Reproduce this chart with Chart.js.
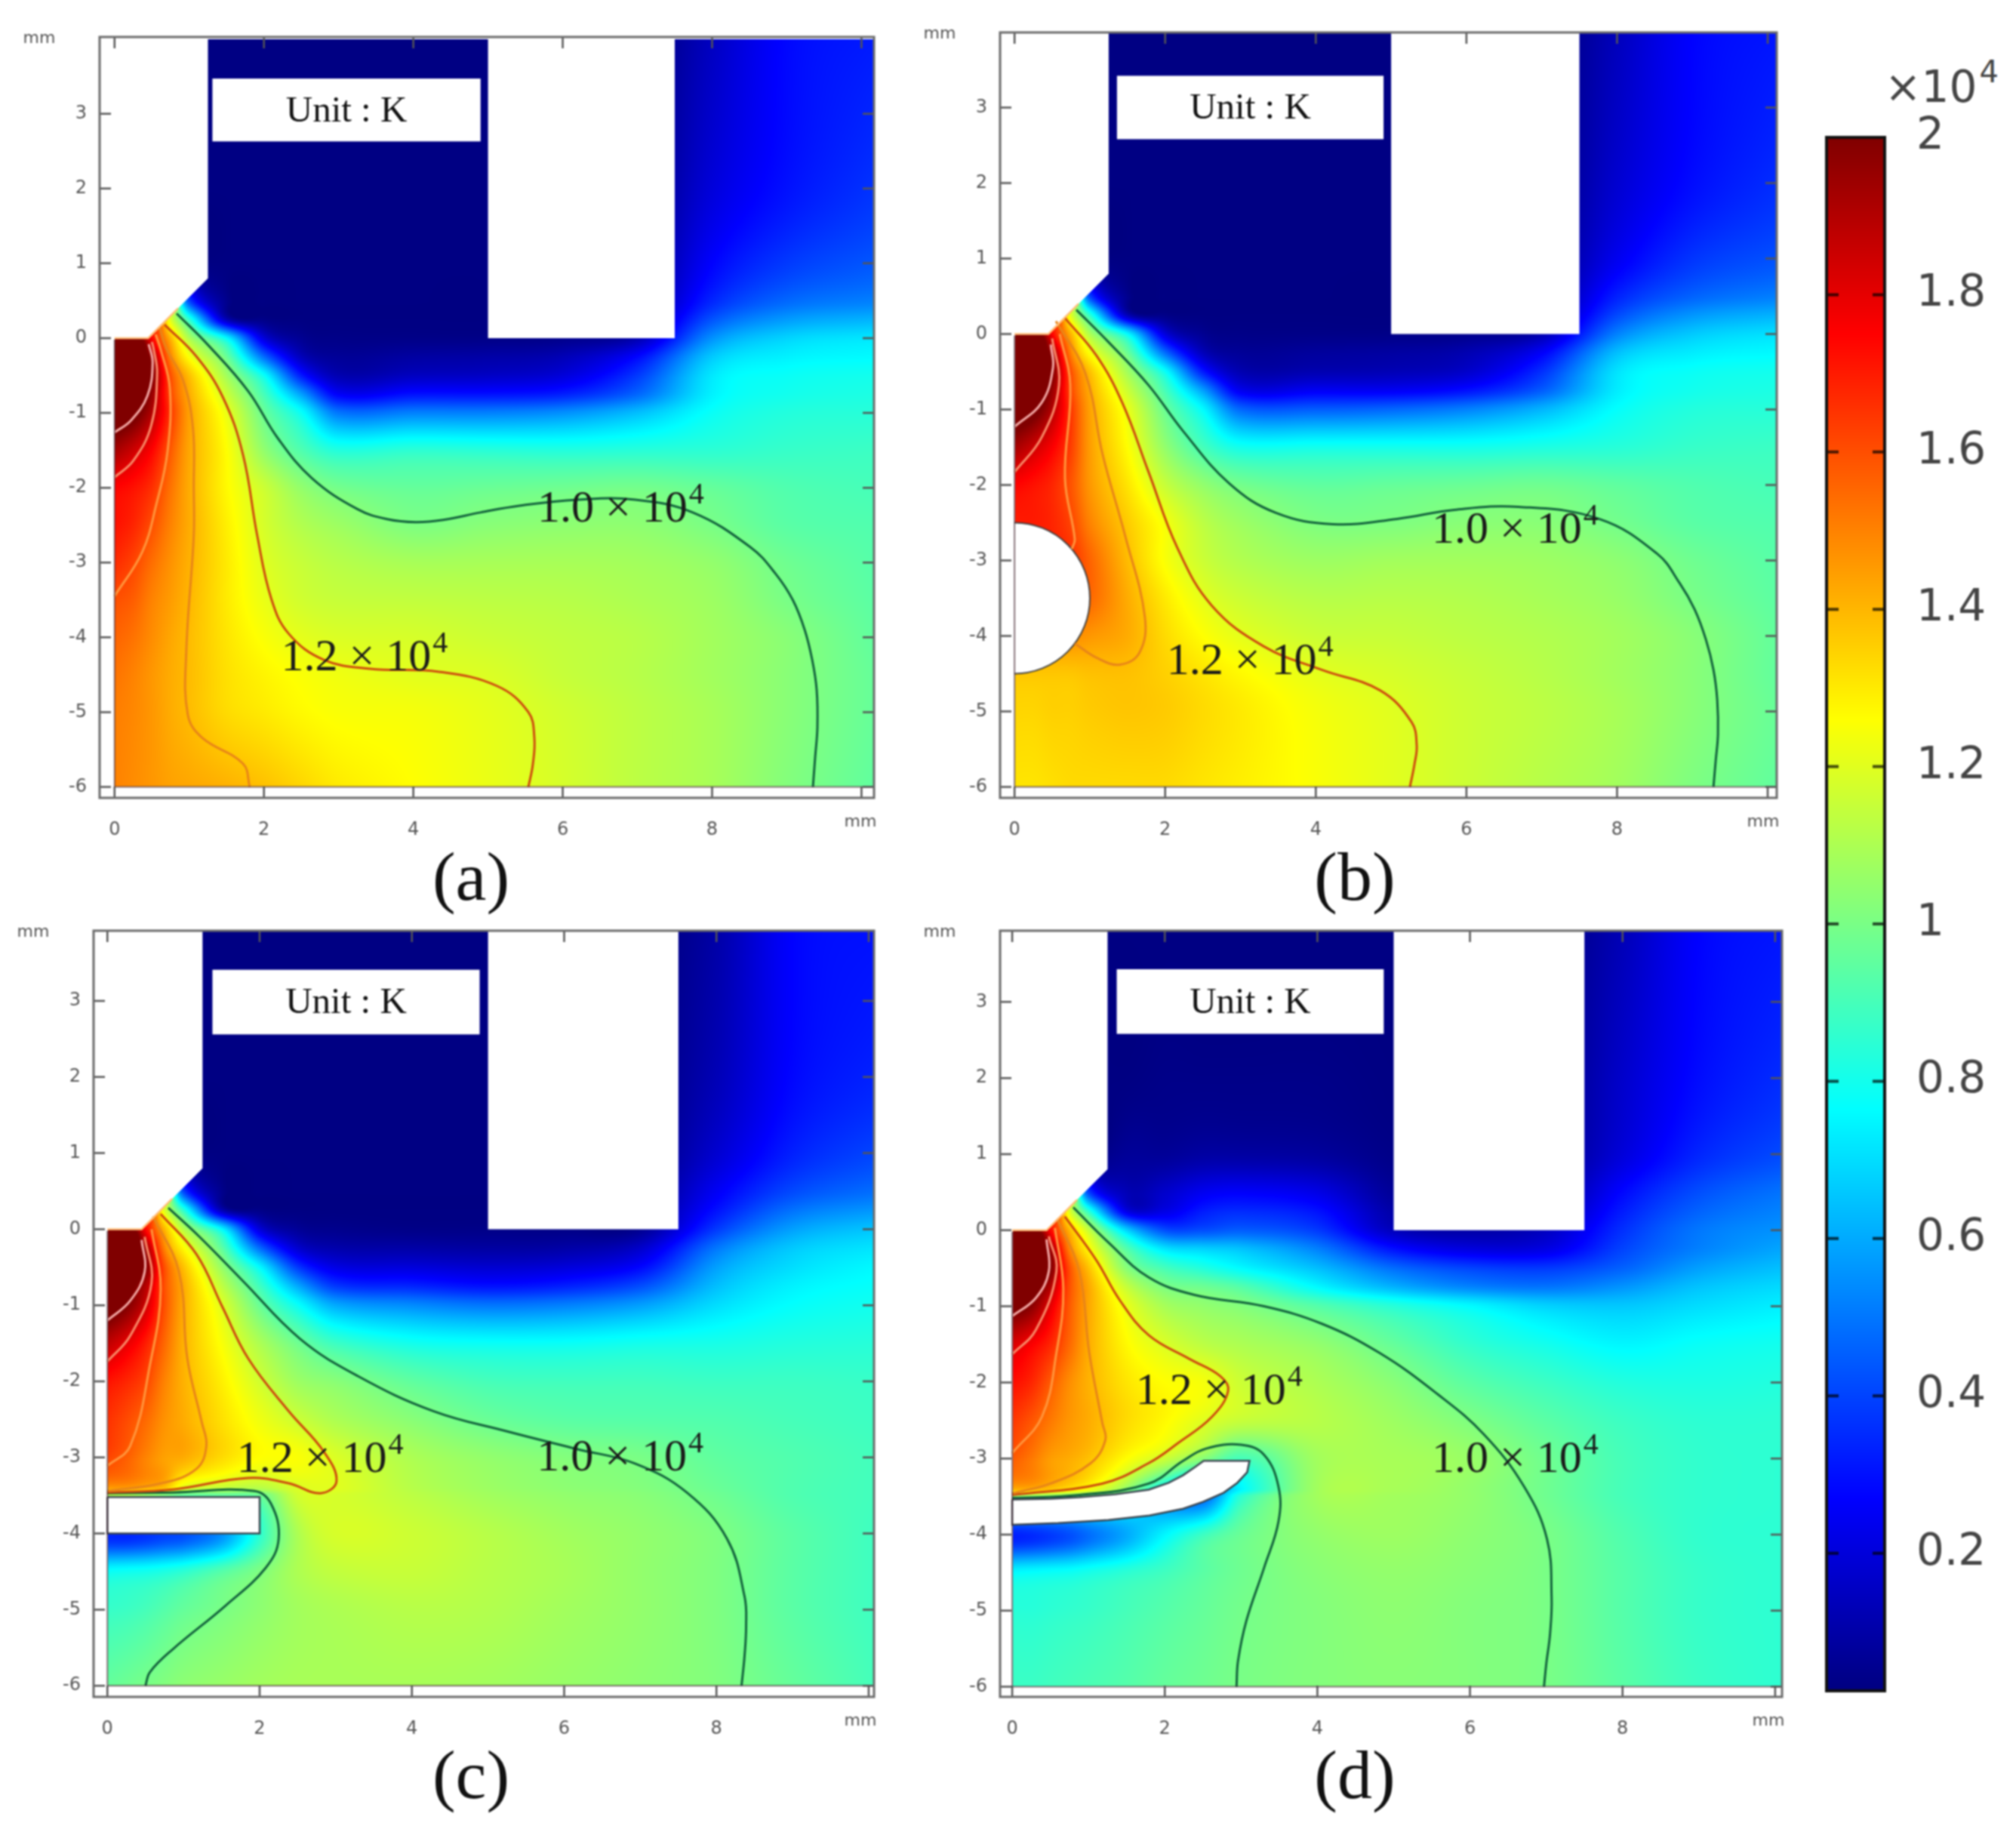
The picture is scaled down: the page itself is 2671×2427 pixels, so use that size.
<!DOCTYPE html>
<html>
<head>
<meta charset="utf-8">
<title>Temperature fields</title>
<script src="https://cdn.jsdelivr.net/npm/chart.js@4"></script>
<style>
  html, body { margin: 0; background: #fff; }
  #page { position: relative; width: 2671px; height: 2427px; overflow: hidden; background: #fff; filter: blur(0.9px); }
  canvas { position: absolute; }
  .cap { position: absolute; font-family: "Liberation Serif", serif; font-size: 92px; line-height: 92px; color: #111; transform: translateX(-50%); }
  #mult { position: absolute; left: 2497px; top: 75px; font-family: "DejaVu Sans", sans-serif; font-size: 58px; line-height: 80px; color: #444; white-space: nowrap; }
  #mult sup { font-size: 40px; line-height: 0; position: relative; top: -6px; vertical-align: super; margin-left: 3px; }
</style>
</head>
<body>
<div id="page">
  <div class="cap" style="left:624px;top:1115px">(a)</div>
  <div class="cap" style="left:1795px;top:1115px">(b)</div>
  <div class="cap" style="left:624px;top:2305px">(c)</div>
  <div class="cap" style="left:1795px;top:2305px">(d)</div>
  <div id="mult">×10<sup>4</sup></div>
</div>
<script>
// tick labels
const xTickValues = [0, 2, 4, 6, 8, 10];
const yTickValues = [-6, -5, -4, -3, -2, -1, 0, 1, 2, 3];
const barTickValues = [0.2, 0.4, 0.6, 0.8, 1, 1.2, 1.4, 1.6, 1.8, 2];

// colour scale, values in 10^4 K
const jetValues = [0.025, 0.27, 0.765, 1.26, 1.75, 2];
const jetColors = [[0, 0, 128], [0, 0, 255], [0, 255, 255], [255, 255, 0], [255, 0, 0], [128, 0, 0]];
const barLevels = [2, 1.9, 1.8, 1.75, 1.7, 1.6, 1.5, 1.4, 1.3, 1.26, 1.2, 1.1, 1, 0.9, 0.8, 0.765, 0.7, 0.6, 0.5, 0.4, 0.3, 0.27, 0.2, 0.1, 0.025];

// sampling positions of the temperature field, in mm
const xCols = [0, 0.25, 0.5, 0.75, 1, 1.5, 2, 2.5, 3, 4, 5, 6, 7, 8, 9, 10.2];
const yRows = [4, 2, 1, 0.5, 0.25, 0, -0.25, -0.5, -0.75, -1, -1.5, -2, -2.5, -3, -3.5, -4, -4.5, -5, -6];
const yRowsHole = [4, 2, 1, 0.5, 0.25, 0, -0.25, -0.5, -0.75, -1, -1.5, -2, -2.5, -3, -3.4, -3.5, -4, -4.5, -5, -6];

const fieldA = [
  [.03,.03,.03,.03,.03,.03,.03,.03,.03,.03,.03,.03,.02,.15,.28,.32],
  [.03,.03,.03,.03,.03,.03,.03,.03,.03,.03,.03,.03,.03,.2,.3,.37],
  [.03,.03,.03,.03,.03,.03,.03,.03,.03,.03,.03,.03,.04,.27,.38,.44],
  [.03,.03,1.5,1.2,.4,.05,.03,.03,.03,.03,.03,.04,.05,.34,.47,.52],
  [.03,.03,1.6,1.2,.85,.13,.04,.03,.03,.03,.03,.04,.07,.43,.57,.62],
  [2.1,2.1,1.75,1.4,1.1,.76,.2,.06,.04,.04,.04,.05,.12,.55,.68,.72],
  [2.1,2.1,1.95,1.5,1.25,.97,.48,.14,.07,.09,.1,.13,.28,.66,.74,.76],
  [2.1,2.1,2,1.6,1.38,1.08,.78,.32,.12,.15,.16,.2,.38,.72,.78,.8],
  [2.1,2.1,1.95,1.62,1.42,1.16,.9,.58,.26,.3,.3,.33,.47,.74,.8,.82],
  [2.1,2.05,1.9,1.65,1.44,1.22,.97,.78,.5,.52,.52,.55,.64,.78,.83,.84],
  [1.93,1.85,1.75,1.58,1.43,1.26,1.05,.92,.83,.85,.84,.83,.84,.85,.87,.88],
  [1.75,1.72,1.66,1.53,1.42,1.27,1.16,1.05,.99,.96,.97,.98,.99,.96,.92,.9],
  [1.72,1.68,1.6,1.5,1.42,1.29,1.18,1.11,1.07,1.01,1.03,1.04,1.04,1,.94,.92],
  [1.67,1.62,1.54,1.47,1.41,1.3,1.2,1.15,1.12,1.09,1.09,1.09,1.08,1.05,.98,.93],
  [1.6,1.57,1.5,1.45,1.4,1.3,1.22,1.17,1.15,1.14,1.13,1.12,1.1,1.07,1,.94],
  [1.56,1.53,1.48,1.43,1.39,1.31,1.25,1.21,1.19,1.18,1.16,1.14,1.12,1.08,1.03,.95],
  [1.53,1.5,1.46,1.42,1.39,1.32,1.28,1.25,1.23,1.205,1.19,1.15,1.12,1.08,1.03,.96],
  [1.51,1.49,1.46,1.42,1.39,1.33,1.3,1.27,1.25,1.24,1.21,1.17,1.13,1.09,1.03,.96],
  [1.5,1.48,1.46,1.44,1.43,1.41,1.38,1.34,1.3,1.26,1.22,1.18,1.13,1.09,1.02,.95]
];
const fieldB = [
  [.03,.03,.03,.03,.03,.03,.03,.03,.03,.03,.03,.03,.02,.14,.27,.31],
  [.03,.03,.03,.03,.03,.03,.03,.03,.03,.03,.03,.03,.03,.18,.29,.36],
  [.03,.03,.03,.03,.03,.03,.03,.03,.03,.03,.03,.03,.04,.24,.37,.43],
  [.03,.03,1.5,1.2,.4,.05,.03,.03,.03,.03,.03,.04,.05,.33,.46,.52],
  [.03,.03,1.6,1.2,.85,.13,.04,.03,.03,.03,.03,.04,.07,.41,.56,.62],
  [2.1,2.1,1.75,1.4,1.1,.76,.2,.06,.04,.04,.04,.05,.12,.52,.66,.71],
  [2.1,2.1,1.95,1.5,1.25,.97,.48,.14,.07,.08,.09,.12,.26,.64,.73,.76],
  [2.1,2.1,2,1.6,1.38,1.08,.78,.32,.12,.12,.13,.17,.36,.71,.78,.8],
  [2.1,2.1,1.95,1.62,1.42,1.16,.9,.58,.24,.25,.25,.3,.45,.73,.8,.82],
  [2.1,2.05,1.9,1.65,1.44,1.22,.97,.76,.47,.45,.47,.52,.62,.77,.83,.84],
  [1.93,1.85,1.76,1.63,1.45,1.26,1.05,.9,.8,.8,.8,.8,.82,.84,.87,.88],
  [1.75,1.72,1.68,1.59,1.46,1.31,1.15,1.05,.99,.95,.96,.97,.98,.95,.92,.9],
  [1.7,1.7,1.68,1.62,1.5,1.36,1.24,1.13,1.07,1.01,1.01,1.03,1.03,.99,.94,.92],
  [1.68,1.68,1.68,1.65,1.56,1.39,1.25,1.16,1.11,1.07,1.08,1.08,1.07,1.04,.98,.93],
  [1.58,1.58,1.58,1.58,1.55,1.42,1.3,1.21,1.16,1.12,1.12,1.11,1.09,1.06,1,.94],
  [1.48,1.48,1.48,1.48,1.46,1.42,1.33,1.26,1.21,1.16,1.15,1.13,1.11,1.08,1.03,.95],
  [1.37,1.37,1.37,1.37,1.38,1.38,1.35,1.31,1.27,1.21,1.18,1.15,1.12,1.08,1.03,.95],
  [1.34,1.34,1.35,1.35,1.36,1.37,1.36,1.33,1.3,1.24,1.2,1.16,1.13,1.09,1.03,.96],
  [1.31,1.31,1.32,1.33,1.33,1.33,1.33,1.31,1.29,1.25,1.205,1.16,1.12,1.08,1.01,.95]
];
const fieldC = [
  [.03,.03,.03,.03,.03,.03,.03,.03,.03,.03,.03,.03,.02,.1,.27,.3],
  [.03,.03,.03,.03,.03,.03,.03,.03,.03,.03,.03,.03,.03,.13,.28,.34],
  [.03,.03,.03,.03,.03,.03,.03,.03,.03,.03,.03,.03,.03,.18,.33,.41],
  [.03,.03,1.5,1.2,.4,.05,.03,.03,.03,.03,.03,.03,.04,.25,.41,.49],
  [.03,.03,1.6,1.2,.85,.13,.04,.03,.03,.03,.03,.03,.05,.3,.49,.57],
  [2.1,2.1,1.75,1.4,1.12,.76,.2,.07,.05,.04,.04,.04,.06,.38,.58,.66],
  [2.1,2.1,1.95,1.5,1.27,.95,.48,.18,.11,.1,.09,.1,.17,.5,.66,.72],
  [2.1,2.1,2,1.6,1.38,1.06,.76,.38,.22,.2,.18,.2,.28,.58,.7,.76],
  [2.1,2.05,1.9,1.6,1.42,1.14,.89,.6,.38,.34,.3,.33,.42,.64,.74,.78],
  [2.08,2,1.85,1.6,1.42,1.2,.97,.78,.6,.54,.5,.52,.58,.7,.77,.8],
  [1.88,1.8,1.7,1.55,1.41,1.25,1.1,.98,.88,.8,.78,.78,.8,.81,.83,.84],
  [1.72,1.68,1.62,1.5,1.41,1.29,1.17,1.07,1.03,.95,.9,.89,.89,.88,.88,.87],
  [1.66,1.61,1.55,1.47,1.42,1.32,1.23,1.16,1.1,1.03,.97,.94,.93,.92,.9,.88],
  [1.62,1.57,1.5,1.44,1.42,1.33,1.26,1.25,1.19,1.1,1.05,1.02,1,.95,.92,.89],
  [1.45,1.45,1.42,1.38,1.2,1.15,1.12,1.19,1.2,1.12,1.07,1.04,1.02,.97,.92,.89],
  [1.1,1.1,1.05,1,.95,.95,.97,1.17,1.18,1.13,1.08,1.05,1.03,.98,.92,.89],
  [.35,.35,.37,.4,.42,.55,.85,1.1,1.18,1.16,1.12,1.08,1.05,1.01,.94,.88],
  [.78,.79,.8,.82,.85,.93,1.01,1.1,1.14,1.15,1.12,1.09,1.05,1.01,.94,.88],
  [.87,.88,.9,.93,.96,1,1.04,1.08,1.1,1.12,1.11,1.08,1.05,1.01,.94,.88],
  [.96,.98,1,1.02,1.04,1.06,1.08,1.09,1.09,1.09,1.08,1.06,1.04,1.015,.96,.89]
];
const fieldD = [
  [.03,.03,.03,.03,.03,.03,.03,.03,.03,.03,.03,.03,.03,.13,.27,.31],
  [.03,.03,.03,.03,.03,.03,.04,.04,.04,.04,.03,.03,.04,.17,.29,.36],
  [.03,.03,.03,.03,.03,.07,.07,.09,.09,.08,.04,.03,.05,.2,.34,.42],
  [.03,.03,1.5,1.2,.4,.13,.17,.24,.26,.22,.07,.05,.07,.28,.42,.5],
  [.03,.03,1.6,1.2,.85,.22,.22,.32,.35,.3,.1,.07,.1,.32,.46,.53],
  [2.1,2.1,1.75,1.4,1.15,.68,.42,.42,.45,.38,.14,.1,.15,.36,.5,.56],
  [2.1,2.1,1.95,1.5,1.27,.93,.72,.68,.65,.52,.3,.21,.22,.4,.52,.6],
  [2.1,2.1,2,1.6,1.38,1.03,.9,.83,.76,.64,.48,.4,.38,.46,.58,.65],
  [2.1,2.05,1.9,1.6,1.43,1.15,1.01,.98,.93,.76,.62,.53,.5,.56,.65,.7],
  [2.05,1.98,1.8,1.58,1.43,1.22,1.09,1.05,1.02,.93,.84,.76,.68,.66,.7,.74],
  [1.83,1.76,1.68,1.55,1.42,1.27,1.19,1.13,1.1,1.05,.96,.86,.8,.75,.78,.8],
  [1.73,1.68,1.58,1.48,1.41,1.31,1.26,1.24,1.16,1.1,1.03,.94,.88,.83,.82,.83],
  [1.65,1.59,1.52,1.46,1.42,1.33,1.27,1.2,1.15,1.12,1.07,1.01,.94,.88,.85,.85],
  [1.58,1.52,1.45,1.42,1.38,1.26,1.16,1.03,.9,1.08,1.09,1.06,.98,.9,.86,.85],
  [1.42,1.42,1.38,1.32,1.25,1.05,.75,.5,.75,1.08,1.09,1.05,.98,.9,.86,.85],
  [1.05,1.05,1.03,1,.97,.85,.55,.45,.85,1.08,1.08,1.05,.98,.9,.86,.85],
  [.33,.35,.38,.42,.48,.6,.75,.88,.97,1.05,1.07,1.04,1,.92,.86,.85],
  [.76,.77,.78,.79,.81,.85,.89,.94,.98,1.03,1.05,1.03,1,.93,.87,.85],
  [.84,.84,.85,.86,.87,.9,.93,.96,.99,1.02,1.04,1.02,1,.93,.87,.85],
  [.88,.88,.89,.9,.91,.93,.96,.98,1,1.02,1.03,1.02,1,.94,.88,.85]
];

// contour levels, [x mm, y mm]
const a10 = [[.83,.33],[1.25,-.09],[1.79,-.71],[2.18,-1.33],[2.64,-1.87],[3.26,-2.29],[3.65,-2.42],[4.03,-2.46],[4.4,-2.43],[4.9,-2.33],[5.42,-2.24],[6.2,-2.16],[6.97,-2.16],[7.74,-2.33],[8.52,-2.8],[8.85,-3.15],[9.08,-3.5],[9.24,-3.9],[9.34,-4.3],[9.4,-4.7],[9.41,-5.2],[9.38,-5.6],[9.35,-6]];
const a12 = [[.67,.18],[1.1,-.25],[1.45,-.79],[1.72,-1.56],[1.91,-2.64],[2.1,-3.49],[2.33,-3.95],[2.8,-4.3],[3.42,-4.42],[4.34,-4.46],[5.12,-4.65],[5.54,-5],[5.62,-5.34],[5.6,-5.7],[5.54,-6]];
const a14 = [[.6,.15],[.69,-.13],[.92,-.57],[1.05,-1.21],[1.06,-2.01],[1.06,-2.64],[.96,-4.19],[.98,-5.03],[1.17,-5.34],[1.72,-5.69],[1.81,-6]];
const a16 = [[.55,.05],[.62,-.16],[.74,-.67],[.71,-1.51],[.56,-2.22],[.37,-2.86],[0,-3.45]];
const a18 = [[.5,-.05],[.52,-.13],[.57,-.47],[.49,-1.17],[.25,-1.64],[0,-1.86]];
const a20 = [[.457,-.08],[.51,-.33],[.44,-.77],[.22,-1.1],[0,-1.26]];

const b10 = [[.82,.32],[1.24,-.1],[1.78,-.68],[2.24,-1.29],[2.85,-1.98],[3.47,-2.37],[4.23,-2.52],[5.08,-2.45],[5.84,-2.33],[6.69,-2.29],[7.76,-2.45],[8.53,-2.91],[8.83,-3.3],[9.03,-3.65],[9.18,-4.05],[9.28,-4.45],[9.33,-4.85],[9.34,-5.3],[9.31,-5.65],[9.28,-6]];
const b12 = [[.67,.21],[1.09,-.29],[1.43,-.91],[1.78,-1.83],[2.16,-2.83],[2.62,-3.6],[3.31,-4.14],[4.08,-4.45],[4.85,-4.72],[5.27,-5.14],[5.34,-5.45],[5.31,-5.7],[5.25,-6]];
const b14 = [[.55,.17],[.94,-.52],[1.17,-1.6],[1.47,-2.68],[1.73,-3.75],[1.66,-4.22],[1.4,-4.38],[1.09,-4.29],[.8,-4.1]];
const b16 = [[.6,0],[.74,-.68],[.67,-1.91],[.8,-2.72],[.76,-2.85]];
const b18 = [[.5,-.06],[.59,-.68],[.36,-1.37],[0,-1.83]];
const b20 = [[.48,-.14],[.51,-.45],[.36,-.91],[0,-1.23]];

const c10 = [[.8,.28],[1.21,-.1],[1.77,-.67],[2.53,-1.44],[3.29,-1.93],[4.28,-2.39],[5.26,-2.66],[6.17,-2.89],[6.93,-3.08],[7.61,-3.46],[8.14,-4.07],[8.37,-4.83],[8.39,-5.21],[8.37,-5.6],[8.33,-6]];
const c10b = [[0,-3.47],[.86,-3.46],[1.93,-3.44],[2.15,-3.61],[2.25,-4.07],[2.08,-4.45],[1.55,-4.95],[.86,-5.52],[.56,-5.82],[.5,-6]];
const c12 = [[.7,.2],[1.17,-.33],[1.51,-1.02],[1.85,-1.7],[2.38,-2.39],[2.84,-2.92],[3.01,-3.31],[2.8,-3.47],[2.38,-3.34],[1.85,-3.27],[.86,-3.42],[0,-3.46]];
const c14 = [[.6,.17],[.94,-.56],[1.05,-1.7],[1.24,-2.54],[1.3,-2.85],[1.17,-3.15],[.71,-3.34],[0,-3.44]];
const c16 = [[.58,0],[.7,-.79],[.56,-1.78],[.3,-2.85],[0,-3.11]];
const c18 = [[.49,-.1],[.58,-.71],[.3,-1.4],[0,-1.74]];
const c20 = [[.45,-.14],[.49,-.56],[.3,-.94],[0,-1.2]];

const d10 = [[.8,.3],[1.26,-.16],[1.79,-.62],[2.39,-.85],[3.3,-1],[4.06,-1.23],[4.81,-1.61],[5.57,-2.15],[6.18,-2.68],[6.71,-3.37],[7.01,-4.06],[7.07,-4.82],[7.05,-5.3],[7,-5.7],[6.97,-6]];
const d10b = [[0,-3.52],[.88,-3.48],[1.79,-3.33],[2.24,-3.03],[2.54,-2.87],[3,-2.82],[3.3,-2.95],[3.49,-3.37],[3.49,-3.83],[3.3,-4.44],[3.07,-5.13],[2.96,-5.66],[2.94,-6]];
const d12 = [[.69,.18],[1.1,-.39],[1.41,-.92],[1.79,-1.38],[2.32,-1.69],[2.73,-1.92],[2.83,-2.11],[2.62,-2.45],[2.17,-2.8],[1.79,-3.06],[1.18,-3.33],[0,-3.48]];
const d14 = [[.59,.15],[.88,-.54],[1.01,-1.61],[1.18,-2.53],[1.22,-2.76],[1.03,-3.06],[.5,-3.33],[0,-3.46]];
const d16 = [[.56,.03],[.67,-.77],[.58,-1.61],[.39,-2.45],[0,-2.93]];
const d18 = [[.48,-.08],[.58,-.54],[.31,-1.31],[0,-1.63]];
const d20 = [[.45,-.12],[.48,-.54],[.31,-.89],[0,-1.13]];

// white electrode and obstacle outlines, in mm
const cathode = [[0,4.1],[1.25,4.1],[1.25,.8],[.45,0],[0,0]];
const anode = [[5,4.1],[7.5,4.1],[7.5,0],[5,0]];
const cathodeEdge = [[0,0],[.45,0],[.85,.4]];
const outerEdge = [[0,-.02],[0,-6],[10.2,-6]];
const circleB = [0, -3.5, 1];
const slabC = [[0,-3.52],[2,-3.52],[2,-4],[0,-4]];
const curveD = [[0,-3.54],[.5,-3.53],[.88,-3.51],[1.35,-3.47],[1.79,-3.41],[2.05,-3.32],[2.24,-3.22],[2.4,-3.11],[2.51,-3.03],[3.11,-3.03],[3.08,-3.18],[2.95,-3.32],[2.77,-3.45],[2.5,-3.57],[2.24,-3.66],[1.8,-3.75],[1.26,-3.81],[.6,-3.85],[0,-3.87]];

const contourColors = { l10: '#12623c', l12: '#cd4b0f', l14: '#e88518', l16: '#ff963c', l18: '#f88a68', l20: '#f2a8a4' };
const FONT_SANS = '"DejaVu Sans", sans-serif';
const FONT_SERIF = '"Liberation Serif", serif';

const page = document.getElementById('page');

function jetColor(v) {
    if (v <= jetValues[0]) return jetColors[0];
    for (let i = 1; i < jetValues.length; i++) {
        if (v <= jetValues[i]) {
            const t = (v - jetValues[i - 1]) / (jetValues[i] - jetValues[i - 1]);
            const a = jetColors[i - 1], b = jetColors[i];
            return [a[0] + (b[0] - a[0]) * t, a[1] + (b[1] - a[1]) * t, a[2] + (b[2] - a[2]) * t];
        }
    }
    return jetColors[jetColors.length - 1];
}

// shading weights for one pixel position inside a sorted list (either direction)
function shadeWeights(list, v) {
    const sign = list[1] > list[0] ? 1 : -1;
    let i = list.length - 2;
    for (let k = 0; k < list.length - 1; k++) {
        if (sign * v <= sign * list[k + 1]) { i = k; break; }
    }
    const h = list[i + 1] - list[i];
    const t = Math.min(1, Math.max(0, (v - list[i]) / h));
    const a = Math.max(i - 1, 0), b = Math.min(i + 2, list.length - 1);
    const h00 = 2 * t * t * t - 3 * t * t + 1, h10 = t * t * t - 2 * t * t + t;
    const h01 = -2 * t * t * t + 3 * t * t, h11 = t * t * t - t * t;
    const k0 = h * h10 / (list[i + 1] - list[a]), k1 = h * h11 / (list[b] - list[i]);
    return { idx: [a, i, i + 1, b], w: [-k0, h00 - k1, h01 + k0, k1] };
}

// paints the value grid through the chart's own scales
function fieldPlugin(xs, ys, rows) {
    return {
        id: 'field',
        beforeDatasetsDraw(chart) {
            const sx = chart.scales.x, sy = chart.scales.y, area = chart.chartArea;
            const left = Math.ceil(Math.max(area.left, sx.getPixelForValue(xs[0])));
            const right = Math.floor(Math.min(area.right, sx.getPixelForValue(xs[xs.length - 1])));
            const top = Math.ceil(Math.max(area.top, sy.getPixelForValue(ys[0])));
            const bottom = Math.floor(Math.min(area.bottom, sy.getPixelForValue(ys[ys.length - 1])));
            const w = right - left, h = bottom - top;
            const off = document.createElement('canvas');
            off.width = w; off.height = h;
            const octx = off.getContext('2d');
            const img = octx.createImageData(w, h);
            const cols = [];
            for (let i = 0; i < w; i++) cols.push(shadeWeights(xs, sx.getValueForPixel(left + i + 0.5)));
            for (let j = 0; j < h; j++) {
                const wy = shadeWeights(ys, sy.getValueForPixel(top + j + 0.5));
                for (let i = 0; i < w; i++) {
                    const wx = cols[i];
                    let v = 0;
                    for (let r = 0; r < 4; r++) {
                        const row = rows[wy.idx[r]];
                        for (let c = 0; c < 4; c++) v += wy.w[r] * wx.w[c] * row[wx.idx[c]];
                    }
                    const col = jetColor(v), k = (j * w + i) * 4;
                    img.data[k] = col[0]; img.data[k + 1] = col[1]; img.data[k + 2] = col[2]; img.data[k + 3] = 255;
                }
            }
            octx.putImageData(img, 0, 0);
            chart.ctx.drawImage(off, left, top);
        }
    };
}

// white shapes on top of the field, contours go above them
function holesPlugin(polys, circle) {
    return {
        id: 'holes',
        beforeDatasetsDraw(chart) {
            const sx = chart.scales.x, sy = chart.scales.y, ctx = chart.ctx;
            ctx.save();
            ctx.beginPath();
            ctx.rect(chart.chartArea.left, chart.chartArea.top, chart.chartArea.width, chart.chartArea.height);
            ctx.clip();
            ctx.fillStyle = '#fff';
            polys.forEach(poly => {
                ctx.beginPath();
                poly.forEach((p, i) => {
                    const px = sx.getPixelForValue(p[0]), py = sy.getPixelForValue(p[1]);
                    if (i === 0) ctx.moveTo(px, py); else ctx.lineTo(px, py);
                });
                ctx.closePath();
                ctx.fill();
            });
            if (circle) {
                const rx = sx.getPixelForValue(circle[2]) - sx.getPixelForValue(0);
                const ry = sy.getPixelForValue(0) - sy.getPixelForValue(circle[2]);
                ctx.beginPath();
                ctx.ellipse(sx.getPixelForValue(circle[0]), sy.getPixelForValue(circle[1]), rx, ry, 0, -Math.PI / 2, Math.PI / 2);
                ctx.closePath();
                ctx.fill();
                ctx.beginPath();
                ctx.ellipse(sx.getPixelForValue(circle[0]), sy.getPixelForValue(circle[1]), rx, ry, 0, -Math.PI / 2, Math.PI / 2);
                ctx.strokeStyle = '#444';
                ctx.lineWidth = 2;
                ctx.stroke();
            }
            ctx.restore();
        }
    };
}

// COMSOL style frame: ticks point inwards on all four sides
function framePlugin(opts) {
    return {
        id: 'frame',
        afterDatasetsDraw(chart) {
            const a = chart.chartArea, ctx = chart.ctx;
            ctx.save();
            ctx.strokeStyle = opts.tickColor;
            ctx.lineWidth = opts.tickWidth;
            if (opts.xTicks) {
                chart.scales.x.ticks.forEach(t => {
                    const px = chart.scales.x.getPixelForValue(t.value);
                    ctx.beginPath();
                    ctx.moveTo(px, a.bottom); ctx.lineTo(px, a.bottom - opts.tickLen);
                    ctx.moveTo(px, a.top); ctx.lineTo(px, a.top + opts.tickLen);
                    ctx.stroke();
                });
            }
            chart.scales.y.ticks.forEach(t => {
                const py = chart.scales.y.getPixelForValue(t.value);
                ctx.beginPath();
                ctx.moveTo(a.left, py); ctx.lineTo(a.left + opts.tickLen, py);
                ctx.moveTo(a.right, py); ctx.lineTo(a.right - opts.tickLen, py);
                ctx.stroke();
            });
            ctx.strokeStyle = opts.color;
            ctx.lineWidth = opts.width;
            ctx.strokeRect(a.left, a.top, a.width, a.height);
            ctx.restore();
        }
    };
}

function textPlugin(box, labels) {
    return {
        id: 'texts',
        afterDatasetsDraw(chart) {
            const sx = chart.scales.x, sy = chart.scales.y, ctx = chart.ctx, a = chart.chartArea;
            ctx.save();
            // unit box
            const bx = sx.getPixelForValue(box[0]), by = sy.getPixelForValue(box[3]);
            const bw = sx.getPixelForValue(box[1]) - bx, bh = sy.getPixelForValue(box[2]) - by;
            ctx.fillStyle = '#fff';
            ctx.fillRect(bx, by, bw, bh);
            ctx.fillStyle = '#111';
            ctx.font = '49px ' + FONT_SERIF;
            ctx.textAlign = 'center';
            ctx.textBaseline = 'middle';
            ctx.fillText('Unit : K', bx + bw / 2, by + bh / 2 + 2);
            // level labels
            ctx.textAlign = 'left';
            ctx.textBaseline = 'alphabetic';
            labels.forEach(l => {
                const px = sx.getPixelForValue(l[1]), py = sy.getPixelForValue(l[2]);
                ctx.font = '60px ' + FONT_SERIF;
                ctx.fillStyle = '#1a1a1a';
                const main = l[0] + ' × 10';
                ctx.fillText(main, px, py);
                const w = ctx.measureText(main).width;
                ctx.font = '40px ' + FONT_SERIF;
                ctx.fillText('4', px + w + 2, py - 24);
            });
            // axis units
            ctx.font = '22px ' + FONT_SANS;
            ctx.fillStyle = '#555';
            ctx.textAlign = 'center';
            ctx.textBaseline = 'middle';
            ctx.fillText('mm', a.left - 80, a.top + 2);
            ctx.fillText('mm', a.right - 18, a.bottom + 32);
            ctx.restore();
        }
    };
}

function lineSet(points, color, width, tension) {
    return {
        type: 'line',
        data: points.map(p => ({ x: p[0], y: p[1] })),
        borderColor: color,
        borderWidth: width,
        pointRadius: 0,
        tension,
        fill: false,
        parsing: false
    };
}

function addCanvas(frame, pad) {
    const c = document.createElement('canvas');
    c.width = frame.right - frame.left + pad.l + pad.r;
    c.height = frame.bottom - frame.top + pad.t + pad.b;
    c.style.left = (frame.left - pad.l) + 'px';
    c.style.top = (frame.top - pad.t) + 'px';
    page.appendChild(c);
    return c.getContext('2d');
}

function makePanel(p) {
    const pad = { l: 120, r: 30, t: 20, b: 70 };
    const ctx = addCanvas(p.frame, pad);
    const cl = contourColors;
    const datasets = [
        lineSet(outerEdge, 'rgba(70,40,50,0.65)', 2, 0),
        lineSet(cathodeEdge, '#ffbe78', 2.5, 0)
    ];
    p.outlines.forEach(o => datasets.push(lineSet(o.concat([o[0]]), '#3c4650', 2.5, 0)));
    p.contours.forEach(c => datasets.push(lineSet(c[0], cl[c[1]], 3, 0.4)));
    new Chart(ctx, {
        type: 'scatter',
        data: { datasets },
        options: {
            responsive: false,
            animation: false,
            layout: { padding: { top: pad.t, right: pad.r } },
            plugins: { legend: { display: false }, tooltip: { enabled: false } },
            scales: {
                x: {
                    type: 'linear', min: p.xMin, max: p.xMax,
                    afterBuildTicks: s => { s.ticks = xTickValues.map(v => ({ value: v })); },
                    afterFit: s => { s.height = pad.b; s.paddingLeft = 0; s.paddingRight = 0; },
                    grid: { display: false },
                    border: { display: false },
                    ticks: {
                        autoSkip: false, maxRotation: 0, padding: 20, color: '#555',
                        font: { family: FONT_SANS, size: 24 },
                        callback: v => (v === 10 ? '' : String(v))
                    }
                },
                y: {
                    type: 'linear', min: p.yMin, max: p.yMax,
                    afterBuildTicks: s => { s.ticks = yTickValues.map(v => ({ value: v })); },
                    afterFit: s => { s.width = pad.l; s.paddingTop = 0; s.paddingBottom = 0; },
                    grid: { display: false },
                    border: { display: false },
                    ticks: {
                        autoSkip: false, padding: 9, color: '#555',
                        font: { family: FONT_SANS, size: 24 },
                        callback: v => String(v)
                    }
                }
            }
        },
        plugins: [
            fieldPlugin(xCols, p.rows, p.field),
            holesPlugin(p.holes, p.circle),
            framePlugin({ color: '#6a6a6a', width: 3, tickColor: '#555', tickWidth: 2.5, tickLen: 15, xTicks: true }),
            textPlugin(p.box, p.labels)
        ]
    });
}

makePanel({
    frame: { left: 132, right: 1158, top: 49, bottom: 1057 },
    xMin: -0.2, xMax: 10.168, yMin: -6.146, yMax: 4.026,
    rows: yRows, field: fieldA, holes: [cathode, anode], outlines: [],
    contours: [[a20, 'l20'], [a18, 'l18'], [a16, 'l16'], [a14, 'l14'], [a12, 'l12'], [a10, 'l10']],
    box: [1.31, 4.9, 2.63, 3.47],
    labels: [['1.0', 5.66, -2.45], ['1.2', 2.23, -4.44]]
});
makePanel({
    frame: { left: 1325, right: 2354, top: 43, bottom: 1057 },
    xMin: -0.192, xMax: 10.12, yMin: -6.146, yMax: 3.994,
    rows: yRows, field: fieldB, holes: [cathode, anode], outlines: [], circle: circleB,
    contours: [[b20, 'l20'], [b18, 'l18'], [b16, 'l16'], [b14, 'l14'], [b12, 'l12'], [b10, 'l10']],
    box: [1.36, 4.9, 2.58, 3.42],
    labels: [['1.0', 5.54, -2.77], ['1.2', 2.02, -4.51]]
});
makePanel({
    frame: { left: 124, right: 1158, top: 1233, bottom: 2248 },
    xMin: -0.181, xMax: 10.07, yMin: -6.147, yMax: 3.923,
    rows: yRowsHole, field: fieldC, holes: [cathode, anode, slabC], outlines: [slabC],
    contours: [[c20, 'l20'], [c18, 'l18'], [c16, 'l16'], [c14, 'l14'], [c12, 'l12'], [c10, 'l10'], [c10b, 'l10']],
    box: [1.38, 4.89, 2.56, 3.41],
    labels: [['1.2', 1.7, -3.19], ['1.0', 5.64, -3.17]]
});
makePanel({
    frame: { left: 1325, right: 2361, top: 1233, bottom: 2248 },
    xMin: -0.159, xMax: 10.09, yMin: -6.133, yMax: 3.936,
    rows: yRowsHole, field: fieldD, holes: [cathode, anode, curveD], outlines: [curveD],
    contours: [[d20, 'l20'], [d18, 'l18'], [d16, 'l16'], [d14, 'l14'], [d12, 'l12'], [d10, 'l10'], [d10b, 'l10']],
    box: [1.37, 4.87, 2.58, 3.43],
    labels: [['1.2', 1.62, -2.28], ['1.0', 5.5, -3.18]]
});

// colour bar
(function () {
    const frame = { left: 2420, right: 2497, top: 182, bottom: 2240 };
    const pad = { l: 10, r: 170, t: 40, b: 20 };
    const ctx = addCanvas(frame, pad);
    new Chart(ctx, {
        type: 'scatter',
        data: { datasets: [{ data: barLevels.map(v => ({ x: 0, y: v })), pointRadius: 0 }] },
        options: {
            responsive: false,
            animation: false,
            layout: { padding: { top: pad.t, left: pad.l, bottom: pad.b } },
            plugins: { legend: { display: false }, tooltip: { enabled: false } },
            scales: {
                x: { type: 'linear', min: 0, max: 1, display: false },
                y: {
                    type: 'linear', position: 'right', min: 0.025, max: 2,
                    afterBuildTicks: s => { s.ticks = barTickValues.map(v => ({ value: v })); },
                    afterFit: s => { s.width = pad.r; s.paddingTop = 0; s.paddingBottom = 0; },
                    grid: { display: false },
                    border: { display: false },
                    ticks: {
                        autoSkip: false, padding: 34, color: '#444', crossAlign: 'near',
                        font: { family: FONT_SANS, size: 58 },
                        callback: v => String(v)
                    }
                }
            }
        },
        plugins: [
            fieldPlugin([0, 1], barLevels, barLevels.map(v => [v, v])),
            framePlugin({ color: '#111', width: 4, tickColor: 'rgba(0,0,0,0.7)', tickWidth: 4, tickLen: 16, xTicks: false })
        ]
    });
})();
</script>
</body>
</html>
